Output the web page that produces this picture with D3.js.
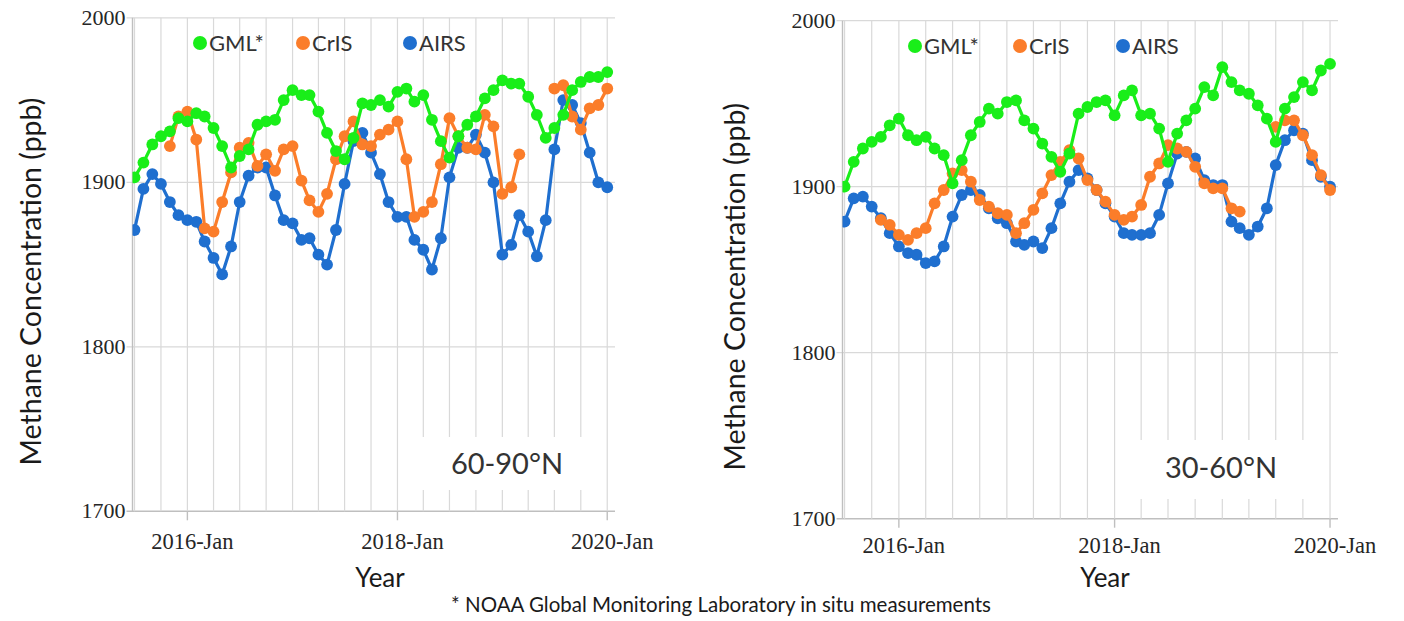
<!DOCTYPE html>
<html>
<head>
<meta charset="utf-8">
<script src="https://cdn.jsdelivr.net/npm/d3@7/dist/d3.min.js"></script>
<style>
  html, body { margin: 0; padding: 0; background: #ffffff; }
  svg { display: block; }
</style>
</head>
<body>
<svg id="chart" width="1404" height="621"></svg>
<script>
// ---------------- DATA ----------------
// Monthly values, July 2015 ... January 2020 (55 months)
const firstMonth = "2015-07-01";
const lastMonth = "2020-01-01";

const seriesNames = ["GML*", "CrIS", "AIRS"];
const seriesColors = ["#19ee19", "#fb7d2a", "#1f6fcf"];

const yTickValues = [1700, 1800, 1900, 2000];
const xTickDates = ["2016-01-01", "2018-01-01", "2020-01-01"];
const xTickLabels = ["2016-Jan", "2018-Jan", "2020-Jan"];

// Panel 1: 60-90°N
const gml_60_90 = [1903,1912,1923,1928,1931,1939,1937,1942,1940,1933,1922,1909,1916,1920,1935,1937,1938,1950,1956,1953,1953,1943,1930,1919,1914,1927,1948,1947,1950,1946,1955,1957,1949,1953,1938,1925,1915,1928,1935,1940,1951,1956,1962,1960,1960,1952,1941,1927,1933,1941,1956,1961,1964,1964,1967];
const cris_60_90 = [null,null,null,null,1922,1940,1943,1926,1872,1870,1888,1906,1921,1924,1910,1917,1907,1920,1922,1901,1889,1882,1893,1914,1928,1937,1923,1922,1929,1932,1937,1914,1879,1882,1888,1911,1939,1928,1921,1920,1941,1934,1893,1897,1917,null,null,null,1957,1959,1940,1932,1945,1947,1957];
const airs_60_90 = [1871,1896,1905,1899,1888,1880,1877,1876,1864,1854,1844,1861,1888,1904,1909,1909,1892,1877,1875,1865,1866,1856,1850,1871,1899,1925,1930,1918,1905,1888,1879,1879,1865,1859,1847,1866,1903,1921,1921,1929,1918,1900,1856,1862,1880,1870,1855,1877,1920,1950,1947,1936,1918,1900,1897];

// Panel 2: 30-60°N
const gml_30_60 = [1900,1915,1923,1927,1930,1937,1941,1931,1928,1930,1923,1919,1902,1916,1931,1939,1947,1944,1951,1952,1940,1935,1926,1918,1909,1920,1944,1948,1951,1952,1943,1955,1958,1943,1944,1935,1915,1932,1940,1947,1960,1955,1972,1963,1958,1956,1949,1941,1927,1947,1954,1963,1958,1970,1974];
const cris_30_60 = [null,null,null,null,1880,1877,1871,1868,1872,1875,1890,1898,1908,1910,1903,1892,1888,1884,1883,1872,1878,1886,1896,1907,1915,1922,1917,1904,1898,1891,1883,1880,1882,1889,1906,1914,1925,1923,1921,1912,1902,1899,1899,1887,1885,null,null,null,1936,1940,1940,1931,1919,1907,1898];
const airs_30_60 = [1879,1893,1894,1888,1881,1872,1864,1860,1859,1854,1855,1864,1882,1895,1898,1895,1887,1881,1878,1867,1865,1867,1863,1875,1890,1903,1910,1905,1898,1890,1882,1872,1871,1871,1872,1883,1902,1920,1921,1917,1904,1901,1901,1879,1875,1871,1876,1887,1913,1928,1934,1932,1916,1906,1900];

const regionLabels = ["60-90°N", "30-60°N"];
const yAxisTitle = "Methane Concentration (ppb)";
const xAxisTitle = "Year";
const footnote = "* NOAA Global Monitoring Laboratory in situ measurements";

// ---------------- LAYOUT ----------------
const parse = d3.timeParse("%Y-%m-%d");
const months = d3.timeMonth.range(parse(firstMonth), d3.timeDay.offset(parse(lastMonth), 1));
const domainStart = parse("2015-06-24");
const domainEnd = parse("2020-01-28");

const panels = [
  { x0: 132.5, x1: 615, yTop: 17.8, yBot: 511.3, series: [gml_60_90, cris_60_90, airs_60_90],
    label: regionLabels[0], box: [412, 437, 191, 53], labelPos: [507, 474],
    legendX: [200, 303, 410], legendY: 43, yTitleX: 41, xTitleX: 380, tickLabelY: 549 },
  { x0: 842.5, x1: 1338, yTop: 20.7, yBot: 518.7, series: [gml_30_60, cris_30_60, airs_30_60],
    label: regionLabels[1], box: [1128, 440, 197, 59], labelPos: [1221, 478],
    legendX: [915, 1020, 1123], legendY: 46, yTitleX: 745, xTitleX: 1105, tickLabelY: 553 }
];

const svg = d3.select("#chart");
const textColor = "#262626";
const gridColor = "#d9d9d9";
const axisColor = "#bfbfbf";

panels.forEach((p, pi) => {
  const x = d3.scaleTime().domain([domainStart, domainEnd]).range([p.x0, p.x1]);
  const y = d3.scaleLinear().domain([1700, 2000]).range([p.yBot, p.yTop]);
  const g = svg.append("g");

  // horizontal grid + y ticks
  g.selectAll(".hgrid").data(yTickValues).join("line")
    .attr("x1", p.x0 - 6).attr("x2", p.x1)
    .attr("y1", d => y(d)).attr("y2", d => y(d))
    .attr("stroke", d => d === 1700 ? axisColor : gridColor)
    .attr("stroke-width", d => d === 1700 ? 1.6 : 1.2);

  // vertical quarterly grid
  const quarters = d3.timeMonth.every(3).range(parse(firstMonth), d3.timeDay.offset(parse(lastMonth), 1));
  g.selectAll(".vgrid").data(quarters).join("line")
    .attr("x1", d => x(d)).attr("x2", d => x(d))
    .attr("y1", p.yTop).attr("y2", p.yBot)
    .attr("stroke", gridColor).attr("stroke-width", 1.2);

  // y axis line
  g.append("line").attr("x1", p.x0).attr("x2", p.x0).attr("y1", p.yTop).attr("y2", p.yBot)
    .attr("stroke", axisColor).attr("stroke-width", 1.4);

  // labelled x ticks
  const xt = xTickDates.map(parse);
  g.selectAll(".xtick").data(xt).join("line")
    .attr("x1", d => x(d)).attr("x2", d => x(d))
    .attr("y1", p.yBot).attr("y2", p.yBot + 9)
    .attr("stroke", axisColor).attr("stroke-width", 1.4);
  g.selectAll(".xlab").data(xt).join("text")
    .attr("x", (d, i) => x(d) + 5).attr("y", p.tickLabelY)
    .attr("text-anchor", "middle")
    .attr("font-family", "'Liberation Serif', 'DejaVu Serif', serif")
    .attr("font-size", 22.5).attr("fill", textColor)
    .text((d, i) => xTickLabels[i]);

  // y tick labels
  g.selectAll(".ylab").data(yTickValues).join("text")
    .attr("x", p.x0 - 7).attr("y", d => y(d) + 7)
    .attr("text-anchor", "end")
    .attr("font-family", "'Liberation Serif', 'DejaVu Serif', serif")
    .attr("font-size", 22).attr("fill", textColor)
    .text(d => d);

  // region label box (covers grid)
  g.append("rect").attr("x", p.box[0]).attr("y", p.box[1]).attr("width", p.box[2]).attr("height", p.box[3])
    .attr("fill", "#ffffff");
  g.append("text").attr("x", p.labelPos[0]).attr("y", p.labelPos[1])
    .attr("text-anchor", "middle").attr("font-family", "Lato, 'Open Sans', sans-serif")
    .attr("font-size", 29).attr("fill", "#333333").text(p.label);

  // clip for data
  const clipId = "clip" + pi;
  svg.append("clipPath").attr("id", clipId).append("rect")
    .attr("x", p.x0).attr("y", p.yTop - 10).attr("width", p.x1 - p.x0 + 10).attr("height", p.yBot - p.yTop + 10);
  const dg = g.append("g").attr("clip-path", `url(#${clipId})`);

  // draw AIRS first, then CrIS, then GML on top
  [2, 1, 0].forEach(si => {
    const vals = p.series[si];
    const pts = months.map((m, i) => ({ date: m, v: vals[i] }));
    const line = d3.line().defined(d => d.v != null).x(d => x(d.date)).y(d => y(d.v));
    dg.append("path").datum(pts).attr("d", line)
      .attr("fill", "none").attr("stroke", seriesColors[si]).attr("stroke-width", 3.2)
      .attr("stroke-linejoin", "round");
    dg.selectAll(".pt" + si).data(pts.filter(d => d.v != null)).join("circle")
      .attr("cx", d => x(d.date)).attr("cy", d => y(d.v)).attr("r", 5.9)
      .attr("fill", seriesColors[si]);
  });

  // legend
  seriesNames.forEach((name, si) => {
    g.append("circle").attr("cx", p.legendX[si]).attr("cy", p.legendY).attr("r", 7)
      .attr("fill", seriesColors[si]);
    g.append("text").attr("x", p.legendX[si] + 9).attr("y", p.legendY + 7.5)
      .attr("font-family", "Lato, 'Open Sans', sans-serif").attr("font-size", 22)
      .attr("fill", "#333333").text(name);
  });

  // axis titles
  g.append("text")
    .attr("transform", `translate(${p.yTitleX},${(p.yTop + p.yBot) / 2 + 17}) rotate(-90)`)
    .attr("text-anchor", "middle").attr("font-family", "Lato, 'Open Sans', sans-serif")
    .attr("font-size", 28.5).attr("fill", "#1a1a1a").text(yAxisTitle);
  g.append("text").attr("x", p.xTitleX).attr("y", 587)
    .attr("text-anchor", "middle").attr("font-family", "Lato, 'Open Sans', sans-serif")
    .attr("font-size", 26).attr("fill", "#1a1a1a").text(xAxisTitle);
});

svg.append("text").attr("x", 721).attr("y", 612)
  .attr("text-anchor", "middle").attr("font-family", "Lato, 'Open Sans', sans-serif")
  .attr("font-size", 20.5).attr("fill", "#1a1a1a").text(footnote);
</script>
</body>
</html>
